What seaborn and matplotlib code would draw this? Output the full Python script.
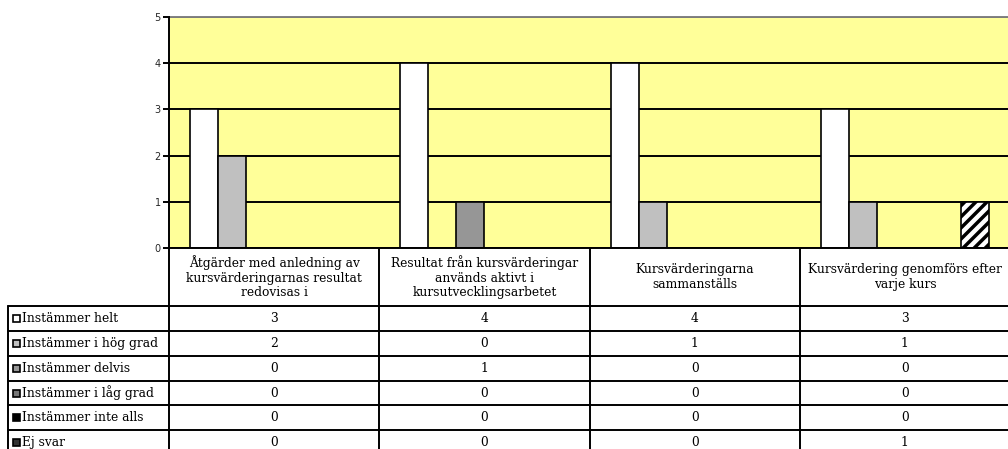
import pandas as pd
import seaborn as sns
import matplotlib.pyplot as plt
from matplotlib.patches import Rectangle

# DATA
categories = [
    "Åtgärder med anledning av\nkursvärderingarnas resultat\nredovisas i",
    "Resultat från kursvärderingar\nanvänds aktivt i\nkursutvecklingsarbetet",
    "Kursvärderingarna\nsammanställs",
    "Kursvärdering genomförs efter\nvarje kurs",
]
series = ["Instämmer helt", "Instämmer i hög grad", "Instämmer delvis",
          "Instämmer i låg grad", "Instämmer inte alls", "Ej svar"]
helt = [3, 4, 4, 3]
hog_grad = [2, 0, 1, 1]
delvis = [0, 1, 0, 0]
lag_grad = [0, 0, 0, 0]
inte_alls = [0, 0, 0, 0]
ej_svar = [0, 0, 0, 1]
colors = ["#FFFFFF", "#C0C0C0", "#969696", "#777777", "#000000", "#FFFFFF"]

values = [helt, hog_grad, delvis, lag_grad, inte_alls, ej_svar]
rows = []
for name, vals in zip(series, values):
    for cat, v in zip(categories, vals):
        rows.append({"kategori": cat, "svar": name, "antal": v})
df = pd.DataFrame(rows)

sns.set_style("white")
plt.rcParams["hatch.linewidth"] = 2.5

# CREATE FIGURE AND PLOT AREA
fig = plt.figure(figsize=(10.08, 4.49), dpi=100)
ax = fig.add_axes([169 / 1008, 201 / 449, 841 / 1008, 231 / 449])
ax.set_facecolor("#FFFF99")
sns.barplot(data=df, x="kategori", y="antal", hue="svar", order=categories,
            hue_order=series, palette=dict(zip(series, colors)), saturation=1,
            edgecolor="black", linewidth=1.2, legend=False, ax=ax)
for bar in ax.containers[5]:
    bar.set_hatch("///")

ax.set_xlim(-0.5, 3.5)
ax.set_ylim(0, 5)
ax.set_yticks(range(6))
ax.set_xticks([])
ax.set_xlabel("")
ax.set_ylabel("")
ax.set_axisbelow(True)
ax.yaxis.grid(True, color="black", linewidth=1.4)
ax.tick_params(axis="y", length=4, width=1.4, color="black", labelsize=7,
               pad=2, left=True, direction="out")
for lbl in ax.get_yticklabels():
    lbl.set_family("DejaVu Sans")
for s in ["left", "bottom"]:
    ax.spines[s].set_color("black")
    ax.spines[s].set_linewidth(1.4)
    ax.spines[s].set_zorder(3)
ax.spines["top"].set_color("#808080")
ax.spines["top"].set_linewidth(1.4)
ax.spines["right"].set_visible(False)

# DATA TABLE BELOW THE CHART
tax = fig.add_axes([8 / 1008, -6 / 449, 1002 / 1008, 207 / 449])
x_left = -0.5 - 161 / 210.25
header_h = 2.35
n_rows = len(series)
tax.set_xlim(x_left, 3.5)
tax.set_ylim(header_h + n_rows, 0)
tax.axis("off")

lw = 1.4
for i in range(n_rows + 1):
    tax.plot([x_left, 3.5], [header_h + i, header_h + i], color="black", lw=lw, clip_on=False)
for j in range(len(categories) + 1):
    tax.plot([j - 0.5, j - 0.5], [0, header_h + n_rows], color="black", lw=lw, clip_on=False)
tax.plot([x_left, x_left], [header_h, header_h + n_rows], color="black", lw=lw, clip_on=False)

font = dict(family=["DejaVu Serif"], fontsize=8.8, color="black")
for j, cat in enumerate(categories):
    tax.text(j, header_h / 2, cat, ha="center", va="center", linespacing=1.15, **font)
for i, (name, vals, col) in enumerate(zip(series, values, colors)):
    y = header_h + i + 0.5
    key = Rectangle((x_left + 5 / 210.25, y - 3.5 / 24.7), 7 / 210.25, 7 / 24.7,
                    facecolor=col, edgecolor="black", lw=1.2, clip_on=False)
    if name == "Ej svar":
        key.set_facecolor("#333333")
    tax.add_patch(key)
    tax.text(x_left + 14 / 210.25, y, name, ha="left", va="center", **font)
    for j, v in enumerate(vals):
        tax.text(j, y, str(v), ha="center", va="center", **font)

plt.savefig("out.png", dpi=100)
